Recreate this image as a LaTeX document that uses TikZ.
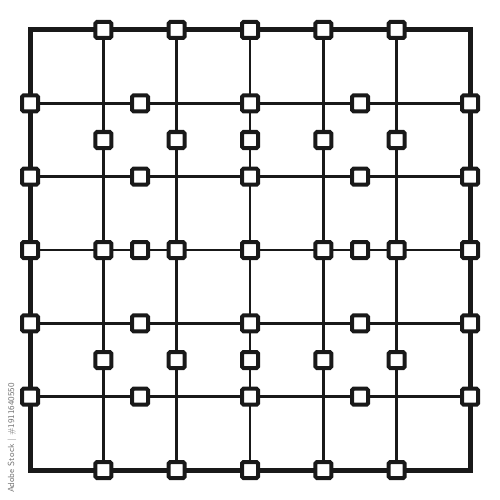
\documentclass[tikz,border=0pt]{standalone}
\usetikzlibrary{backgrounds}
\tikzset{
  sq/.style={draw=black!90, fill=white, line width=4pt, minimum size=16pt, inner sep=0pt, rounded corners=1.5pt},
  gridline/.style={draw=black!90, line width=2.5pt},
  frame/.style={draw=black!90, line width=5pt, line join=miter},
  wmark/.style={text=black!55, font=\sffamily\fontsize{8.8}{8.8}\selectfont, rotate=90, inner sep=0pt}
}
\begin{document}
\begin{tikzpicture}[x=36.6667pt, y=-36.6667pt]
\useasboundingbox (-0.81818,-0.81818) rectangle (12.81818,12.81818);
\foreach \c/\r in {2/0,4/0,6/0,8/0,10/0,
  0/2,3/2,6/2,9/2,12/2,
  2/3,4/3,6/3,8/3,10/3,
  0/4,3/4,6/4,9/4,12/4,
  0/6,2/6,3/6,4/6,6/6,8/6,9/6,10/6,12/6,
  0/8,3/8,6/8,9/8,12/8,
  2/9,4/9,6/9,8/9,10/9,
  0/10,3/10,6/10,9/10,12/10,
  2/12,4/12,6/12,8/12,10/12}
  \node[sq] (s-\c-\r) at (\c,\r) {};
\coordinate (tl) at (0,0);
\coordinate (br) at (12,12);
\begin{pgfonlayer}{background}
  \foreach \c in {2,4,6,8,10}
    \draw[gridline] (s-\c-0.center) -- (s-\c-12.center);
  \foreach \r in {2,4,6,8,10}
    \draw[gridline] (s-0-\r.center) -- (s-12-\r.center);
  \draw[frame] (tl) rectangle (br);
\end{pgfonlayer}
\node[wmark] (wm) at (-0.49,11.13) {Adobe Stock | \#1911640550};
\end{tikzpicture}
\end{document}
